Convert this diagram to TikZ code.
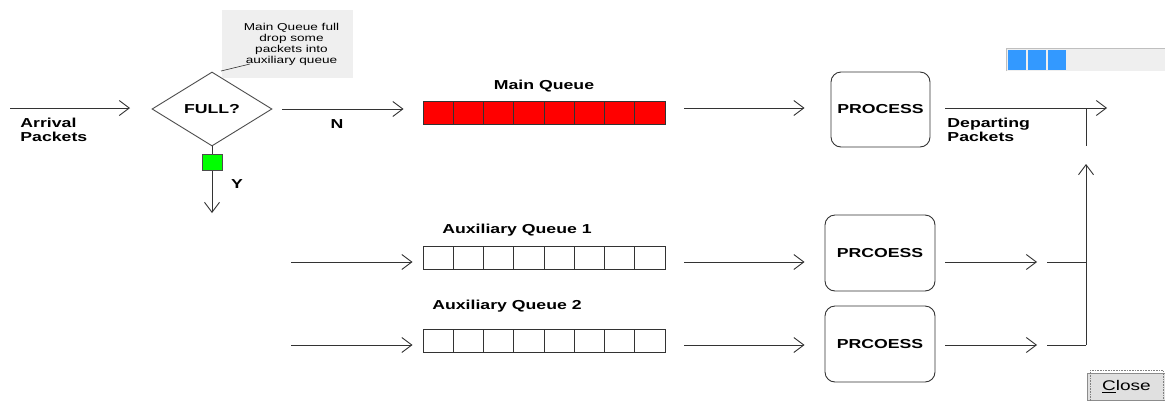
\documentclass[tikz,border=0pt]{standalone}
\usepackage{fontspec}
\setmainfont{Liberation Sans}[FakeStretch=1.36]
\usetikzlibrary{shapes.geometric}
\usetikzlibrary{positioning}
\usetikzlibrary{arrows.meta}

\definecolor{barblue}{HTML}{3399FF}
\definecolor{panel}{HTML}{EFEFEF}
\definecolor{gatecol}{HTML}{00FF00}

\tikzset{
	pkt/.style = {draw = black!80, -{Straight Barb[length = 10pt, width = 15pt]}},
	wire/.style = {draw = black!80},
	lbl/.style = {font = \bfseries\fontsize{13}{14}\selectfont, align = left, inner sep = 0},
	cell/.style = {draw = black!80, minimum width = 30.25pt, minimum height = 23pt, inner sep = 0},
	procbox/.style = {draw = black!80, rounded corners = 10pt, font = \bfseries\fontsize{13}{14}\selectfont}
}

\begin{document}
\begin{tikzpicture}[x = 1pt, y = -1pt, line width = 0.9pt]
		\useasboundingbox (0, 0) rectangle (1165, 400);
		\fill [white] (0, 0) rectangle (1165, 400);

		% decision
		\node (full) [draw = black!70, diamond, aspect = 1.62, inner sep = 0, minimum width = 120pt, minimum height = 74pt, font = \bfseries\fontsize{13}{14}\selectfont] at (212, 109) {FULL?};
		\coordinate (arrin) at (10, 108);
		\draw [pkt] (arrin) -- (130, 108) coordinate (arrtip);
		\node (arrival) [lbl, anchor = north west] at (20, 118) {Arrival\\Packets};

		\node (note) [fill = panel, minimum width = 131pt, minimum height = 68pt, inner sep = 0, align = center, font = \fontsize{10}{11}\selectfont] at (287.5, 44) {\hspace*{8pt}Main Queue full\\\hspace*{8pt}drop some\\\hspace*{8pt}packets into\\\hspace*{8pt}auxiliary queue};
		\coordinate (callA) at (221, 71);
		\coordinate (callB) at (250, 64);
		\draw [wire, line width = 0.6pt] (callA) -- (callB);

		\node (gate) [draw = black!70, fill = gatecol, minimum width = 20pt, minimum height = 16pt, inner sep = 0] at (212, 162.5) {};
		\coordinate (drop) at (212, 213);
		\draw [wire] (full.south) -- (gate.north);
		\draw [pkt] (gate.south) -- (drop);
		\node (yes) [lbl] at (237, 184) {Y};
		\node (no) [lbl] at (337, 124) {N};

		% queues
		\foreach \i in {0,...,7} {
			\node (m\i) [cell, fill = red] at (438.1 + 30.25*\i, 112.5) {};
			\node (a\i) [cell] at (438.1 + 30.25*\i, 257.5) {};
			\node (b\i) [cell] at (438.1 + 30.25*\i, 340.5) {};
		}
		\node (mainq) [lbl] at (544, 86) {Main Queue};
		\node (auxq1) [lbl] at (517, 230) {Auxiliary Queue 1};
		\node (auxq2) [lbl] at (507, 306) {Auxiliary Queue 2};

		\draw [pkt, shorten <= 10pt, shorten >= 19pt] (full.east) -- (full.east -| m0.west);
		\coordinate (ina) at (291, 262);
		\coordinate (inb) at (291, 345);
		\draw [pkt, shorten >= 10pt] (ina) -- (ina -| a0.west);
		\draw [pkt, shorten >= 10pt] (inb) -- (inb -| b0.west);

		% servers
		\node (proc) [procbox, minimum width = 99pt, minimum height = 75pt] at (880.5, 109.5) {PROCESS};
		\node (p1) [procbox, minimum width = 110pt, minimum height = 76pt] at (880, 253) {PRCOESS};
		\node (p2) [procbox, minimum width = 110pt, minimum height = 76pt] at (880, 344) {PRCOESS};

		\draw [pkt, shorten <= 19pt, shorten >= 26pt] (m7.east |- 0, 108) -- (proc.west |- 0, 108);
		\draw [pkt, shorten <= 19pt, shorten >= 20pt] (a7.east |- ina) -- (p1.west |- ina);
		\draw [pkt, shorten <= 19pt, shorten >= 20pt] (b7.east |- inb) -- (p2.west |- inb);

		% departure
		\coordinate (out) at (1107, 108);
		\coordinate (join) at (1086, 108);
		\coordinate (merge) at (1086, 345);
		\draw [pkt, shorten <= 15pt] (proc.east |- out) -- (out);
		\node (depart) [lbl, anchor = north west] at (947, 118) {Departing\\Packets};
		\draw [wire] (join) -- ++(0, 38);
		\draw [pkt] (merge) -- (1086, 164);
		\draw [pkt, shorten <= 10pt] (p1.east |- 0, 262) -- (1037, 262);
		\draw [pkt, shorten <= 10pt] (p2.east |- 0, 345) -- (1037, 345);
		\draw [wire] (1047, 262) -- (1086, 262);
		\draw [wire] (1047, 345) -- (merge);

		% progress bar
		\fill [panel] (1006, 48) rectangle (1165, 71);
		\draw [black!25] (1006, 71) -- (1006, 48) -- (1165, 48);
		\foreach \k in {0, 1, 2}
			\fill [barblue] (1008 + 20*\k, 50) rectangle ++(18, 20);

		% close button
		\node (close) [fill = black!12, draw = black!45, minimum width = 78pt, minimum height = 27pt, inner sep = 0, font = \fontsize{14}{15}\selectfont, anchor = north west] at (1087, 373) {\underline{C}lose};
		\draw [black!50, line width = 0.6pt, densely dotted] ([shift = {(3, -3)}]close.north west) rectangle ([shift = {(-3, 3)}]close.south east);
	\end{tikzpicture}
\end{document}
